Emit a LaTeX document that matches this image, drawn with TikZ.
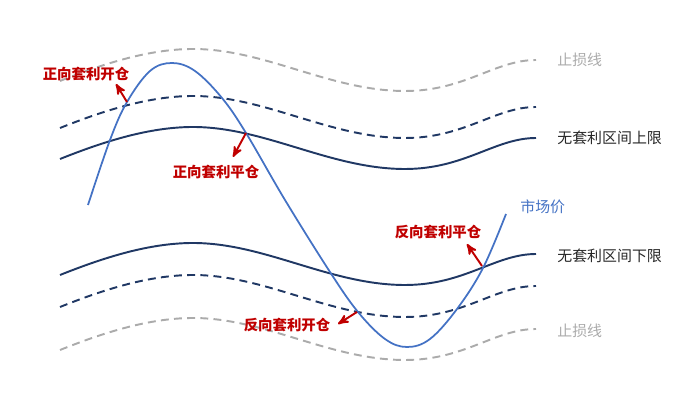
\documentclass[tikz,border=0pt]{standalone}
\usepackage{fontspec}
\newfontfamily\cjk{Noto Sans CJK SC}
\usetikzlibrary{arrows}
\definecolor{navy}{HTML}{203864}
\definecolor{priceblue}{HTML}{4472C4}
\definecolor{stopgray}{HTML}{ABABAB}
\definecolor{signalred}{HTML}{C00000}

\begin{document}
\begin{tikzpicture}[x=0.02cm,y=-0.02cm,>=stealth',
    bound/.style={navy,line width=1.1pt},
    band/.style={navy,line width=1.1pt,dash pattern=on 4.5pt off 3pt},
    stop/.style={stopgray,line width=1.1pt,dash pattern=on 4.5pt off 3pt},
    price/.style={priceblue,line width=1pt},
    signal/.style={signalred,line width=1.1pt,->},
    tag/.style={font=\cjk\bfseries\fontsize{8.2}{10}\selectfont,text=signalred,inner sep=0pt},
    legend/.style={font=\cjk\fontsize{8.5}{10}\selectfont,inner sep=0pt,anchor=west}]
    \useasboundingbox (0,0) rectangle (700,401);

    % Upper stop line, band edge and no-arbitrage upper bound
    \draw[stop] (60,81) .. controls (105,63) and (150,49) .. (193,49)
        .. controls (265,49) and (330,91) .. (405,91)
        .. controls (465,91) and (495,60) .. (536,60);
    \draw[band] (60,128) .. controls (105,110) and (150,96) .. (193,96)
        .. controls (265,96) and (330,138) .. (405,138)
        .. controls (465,138) and (495,107) .. (536,107);
    \draw[bound] (60,159) .. controls (105,141) and (150,127) .. (193,127)
        .. controls (265,127) and (330,169) .. (405,169)
        .. controls (465,169) and (495,138) .. (536,138);

    % Lower bound, band edge and stop line
    \draw[bound] (60,275) .. controls (105,257) and (150,243) .. (193,243)
        .. controls (265,243) and (330,285) .. (405,285)
        .. controls (465,285) and (495,254) .. (536,254);
    \draw[band] (60,307) .. controls (105,289) and (150,275) .. (193,275)
        .. controls (265,275) and (330,317) .. (405,317)
        .. controls (465,317) and (495,286) .. (536,286);
    \draw[stop] (60,350) .. controls (105,332) and (150,318) .. (193,318)
        .. controls (265,318) and (330,360) .. (405,360)
        .. controls (465,360) and (495,329) .. (536,329);

    % Market price
    \draw[price] plot[smooth,tension=0.6] coordinates {(88,205) (110,140) (127,102)
        (150,71) (172,63) (195,71) (222,98) (246,133) (285,200) (330,272) (358,312)
        (385,339) (407,347) (430,339) (457,309) (483,268) (506,214)};

    % Right-hand labels
    \node[legend,text=stopgray] (stopup) at (557,60) {止损线};
    \node[legend,text=black!85] (upper) at (557,138) {无套利区间上限};
    \node[legend,text=priceblue] (mkt) at (520,207) {市场价};
    \node[legend,text=black!85] (lower) at (557,256) {无套利区间下限};
    \node[legend,text=stopgray] (stopdn) at (557,331) {止损线};

    % Signals
    \node[tag] (fwdopen) at (86,74) {正向套利开仓};
    \node[tag] (fwdclose) at (216,172) {正向套利平仓};
    \node[tag] (revclose) at (438,232) {反向套利平仓};
    \node[tag] (revopen) at (287,325) {反向套利开仓};

    \coordinate (fo) at (127,102);
    \coordinate (fo-tip) at (116,84);
    \coordinate (fc) at (246,133);
    \coordinate (fc-tip) at (233,157);
    \coordinate (rc) at (482,266);
    \coordinate (rc-tip) at (467,244);
    \coordinate (ro) at (357,312);
    \coordinate (ro-tip) at (338,324);
    \draw[signal] (fo) -- (fo-tip);
    \draw[signal] (fc) -- (fc-tip);
    \draw[signal] (rc) -- (rc-tip);
    \draw[signal] (ro) -- (ro-tip);
\end{tikzpicture}
\end{document}
